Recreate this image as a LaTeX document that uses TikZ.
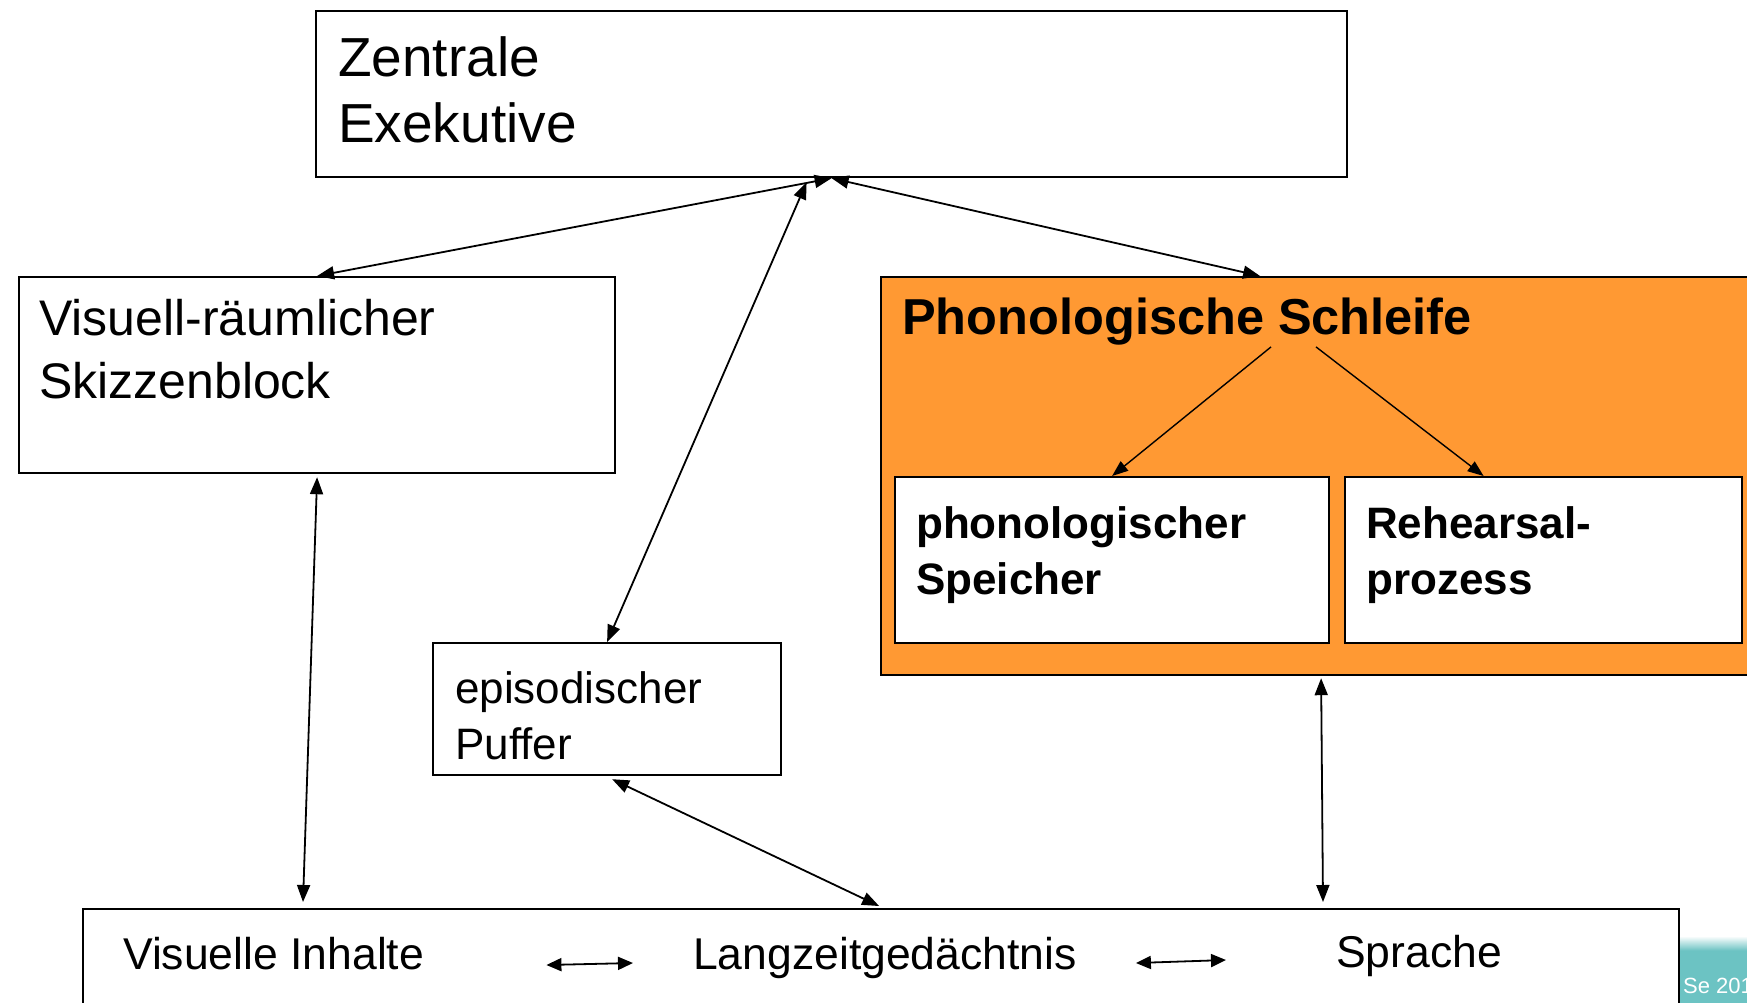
\documentclass[tikz,border=0pt]{standalone}
\usepackage{fontspec}
\setmainfont{Liberation Sans}
\usetikzlibrary{arrows.meta,positioning}

\definecolor{loopfill}{HTML}{FF9933}
\definecolor{slideteal}{HTML}{6CC3C3}

\tikzset{
  box/.style={draw, line width=2.2pt, inner sep=0pt, anchor=north west},
  txt/.style={inner sep=0pt, anchor=base west, align=left},
  link/.style={line width=1.8pt, >={Triangle[length=17pt,width=13pt]}, <->},
  sublink/.style={line width=1.4pt, -{Triangle[length=16pt,width=12pt]}},
  minilink/.style={line width=1.8pt, >={Triangle[length=15pt,width=13pt]}, <->},
}

\begin{document}
\begin{tikzpicture}[x=1pt,y=-1pt]
\useasboundingbox (0,0) rectangle (1747,1002);

% Slide corner
\fill[slideteal] (1680,950) rectangle (1760,1010);
\shade[top color=white, bottom color=slideteal] (1680,936) rectangle (1760,950.5);
\node[txt, text=white, font=\fontsize{22pt}{26pt}\selectfont] (term) at (1683,993) {Se 201};

% Boxes
\node[box, minimum width=1031pt, minimum height=166pt] (zbox) at (315,10) {};
\node[box, minimum width=596pt, minimum height=196pt] (vbox) at (18,276) {};
\node[box, fill=loopfill, minimum width=880pt, minimum height=398pt] (pbox) at (880,276) {};
\node[box, fill=white, minimum width=434pt, minimum height=166pt] (sbox) at (894,476) {};
\node[box, fill=white, minimum width=397pt, minimum height=166pt] (rbox) at (1344,476) {};
\node[box, minimum width=348pt, minimum height=132pt] (ebox) at (432,642) {};
\node[box, minimum width=1596pt, minimum height=120pt] (lbox) at (82,908) {};

% Texts (base = last line)
\node[txt, font=\fontsize{55pt}{66pt}\selectfont] (ztxt) at (338,142) {Zentrale\\Exekutive};
\node[txt, font=\fontsize{50pt}{63pt}\selectfont] (vtxt) at (39,398) {Visuell-räumlicher\\Skizzenblock};
\node[txt, font=\bfseries\fontsize{50.5pt}{60pt}\selectfont] (ptxt) at (902,334) {Phonologische Schleife};
\node[txt, font=\bfseries\fontsize{44pt}{56pt}\selectfont] (stxt) at (916,594) {phonologischer\\Speicher};
\node[txt, font=\bfseries\fontsize{44pt}{56pt}\selectfont] (rtxt) at (1366,594) {Rehearsal-\\prozess};
\node[txt, font=\fontsize{44pt}{56pt}\selectfont] (etxt) at (455,759) {episodischer\\Puffer};
\node[txt, font=\fontsize{44.5pt}{53pt}\selectfont] (lvis) at (123,969) {Visuelle Inhalte};
\node[txt, font=\fontsize{44.5pt}{53pt}\selectfont] (lmem) at (693,969) {Langzeitgedächtnis};
\node[txt, font=\fontsize{44.5pt}{53pt}\selectfont] (lspr) at (1336,967) {Sprache};

% Connections to the central executive
\draw[link] (zbox.south) -- (vbox.north);
\draw[link] ([shift={(-25,4)}]zbox.south) -- (ebox.north);
\draw[link] (zbox.south) -- ([xshift=-61pt]pbox.north);

% Inside the loop
\draw[sublink] ([shift={(84,2)}]ptxt.south) -- (sbox.north);
\draw[sublink] ([shift={(129,2)}]ptxt.south) -- ([xshift=-60pt]rbox.north);

% Connections to long-term memory
\coordinate (lmvis) at ([shift={(221,-6)}]lbox.north west);
\coordinate (lmspr) at ([shift={(1241,-6)}]lbox.north west);
\draw[link] ([yshift=-3pt]vbox.south) -- (lmvis);
\draw[link] ([shift={(5,3)}]ebox.south) -- ([shift={(-2,-2)}]lbox.north);
\draw[link] ([yshift=-2pt]pbox.south) -- (lmspr);

% Within long-term memory
\draw[minilink] ([shift={(122,-4)}]lvis.base east) -- ([shift={(-60,-6)}]lmem.base west);
\draw[minilink] ([shift={(59,-6)}]lmem.base east) -- ([shift={(-110,-7)}]lspr.base west);

\end{tikzpicture}
\end{document}
